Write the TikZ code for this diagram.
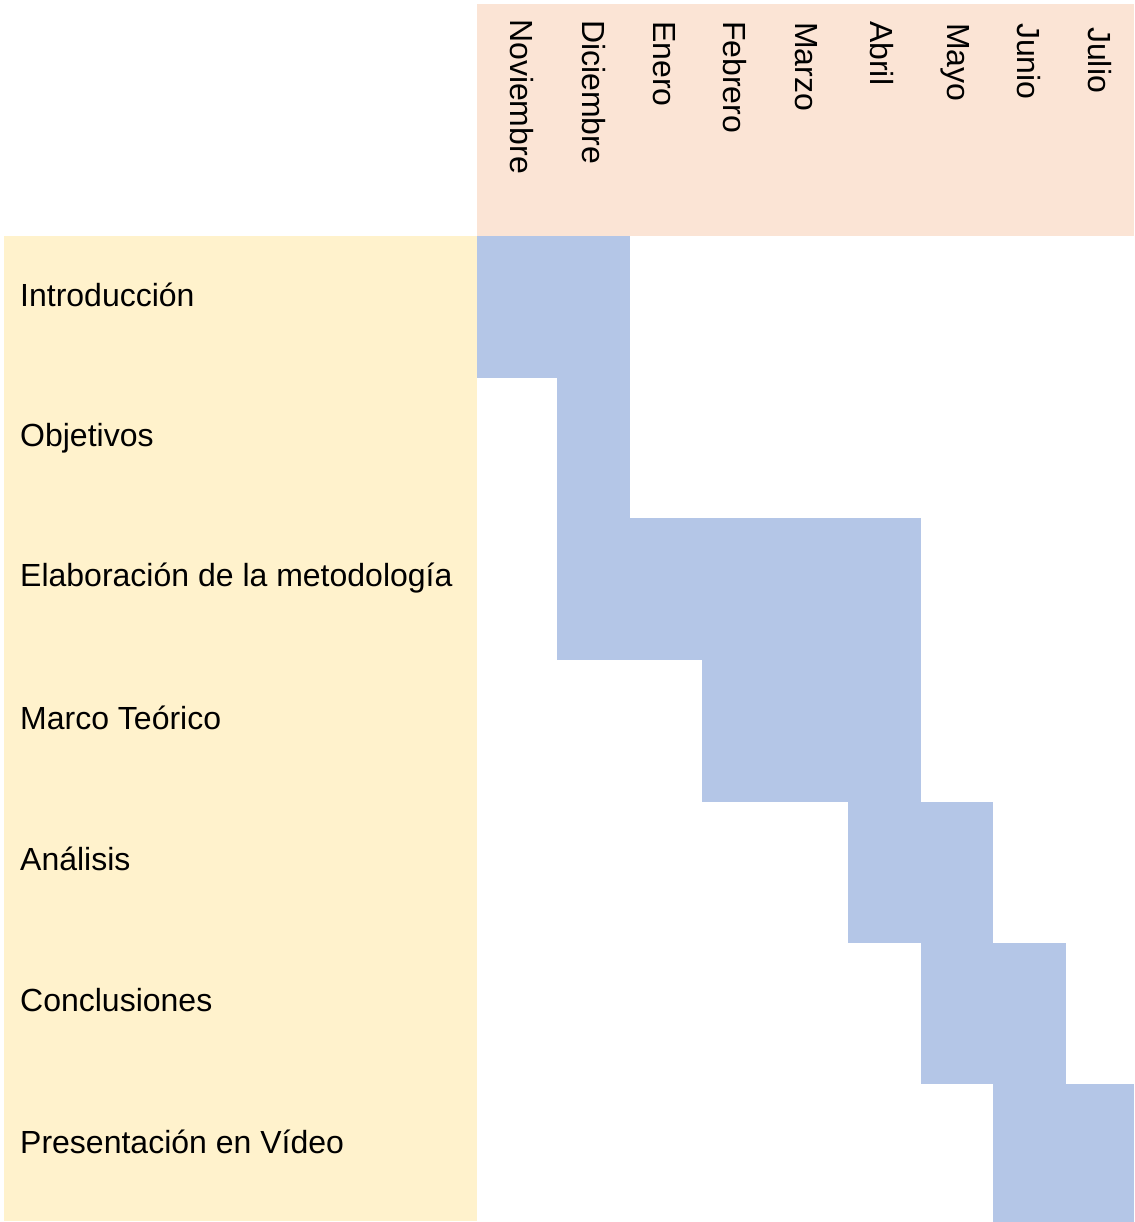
\documentclass[tikz,border=0pt]{standalone}
\usepackage{fontspec}
\setmainfont{Liberation Sans}
\definecolor{peach}{HTML}{FBE4D5}
\definecolor{cream}{HTML}{FFF2CC}
\definecolor{barblue}{HTML}{B4C6E7}
\begin{document}
\begin{tikzpicture}[x=1pt,y=-1pt,
  month/.style={rotate=-90,anchor=base west,inner sep=0pt,font=\fontsize{32}{38}\selectfont},
  task/.style={anchor=base west,inner sep=0pt,font=\fontsize{32}{38}\selectfont},
  barfill/.style={fill=barblue}]
\useasboundingbox (0,0) rectangle (1134,1222);
\fill[peach] (477,4) rectangle (1134,236);
\fill[cream] (4,236) rectangle (477,1221);
% bars
\fill[barfill] (477,236) rectangle (630,378);
\fill[barfill] (557,378) rectangle (630,518);
\fill[barfill] (557,518) rectangle (921,660);
\fill[barfill] (702,660) rectangle (921,801.5);
\fill[barfill] (848,801.5) rectangle (993,943);
\fill[barfill] (921,943) rectangle (1066,1084);
\fill[barfill] (993,1084) rectangle (1134,1222);
% months
\node[month] (nov) at (510,19) {Noviembre};
\node[month] (dic) at (582,20) {Diciembre};
\node[month] (ene) at (653,21) {Enero};
\node[month] (feb) at (723,21) {Febrero};
\node[month] (mar) at (795,22) {Marzo};
\node[month] (abr) at (870,21) {Abril};
\node[month] (may) at (947,23) {Mayo};
\node[month] (jun) at (1017,23) {Junio};
\node[month] (jul) at (1088,27) {Julio};
% tasks
\node[task] (t1) at (20,306) {Introducción};
\node[task] (t2) at (20,446) {Objetivos};
\node[task] (t3) at (20,586) {Elaboración de la metodología};
\node[task] (t4) at (20,729) {Marco Teórico};
\node[task] (t5) at (20,870) {Análisis};
\node[task] (t6) at (20,1011) {Conclusiones};
\node[task] (t7) at (20,1153) {Presentación en Vídeo};
\end{tikzpicture}
\end{document}
